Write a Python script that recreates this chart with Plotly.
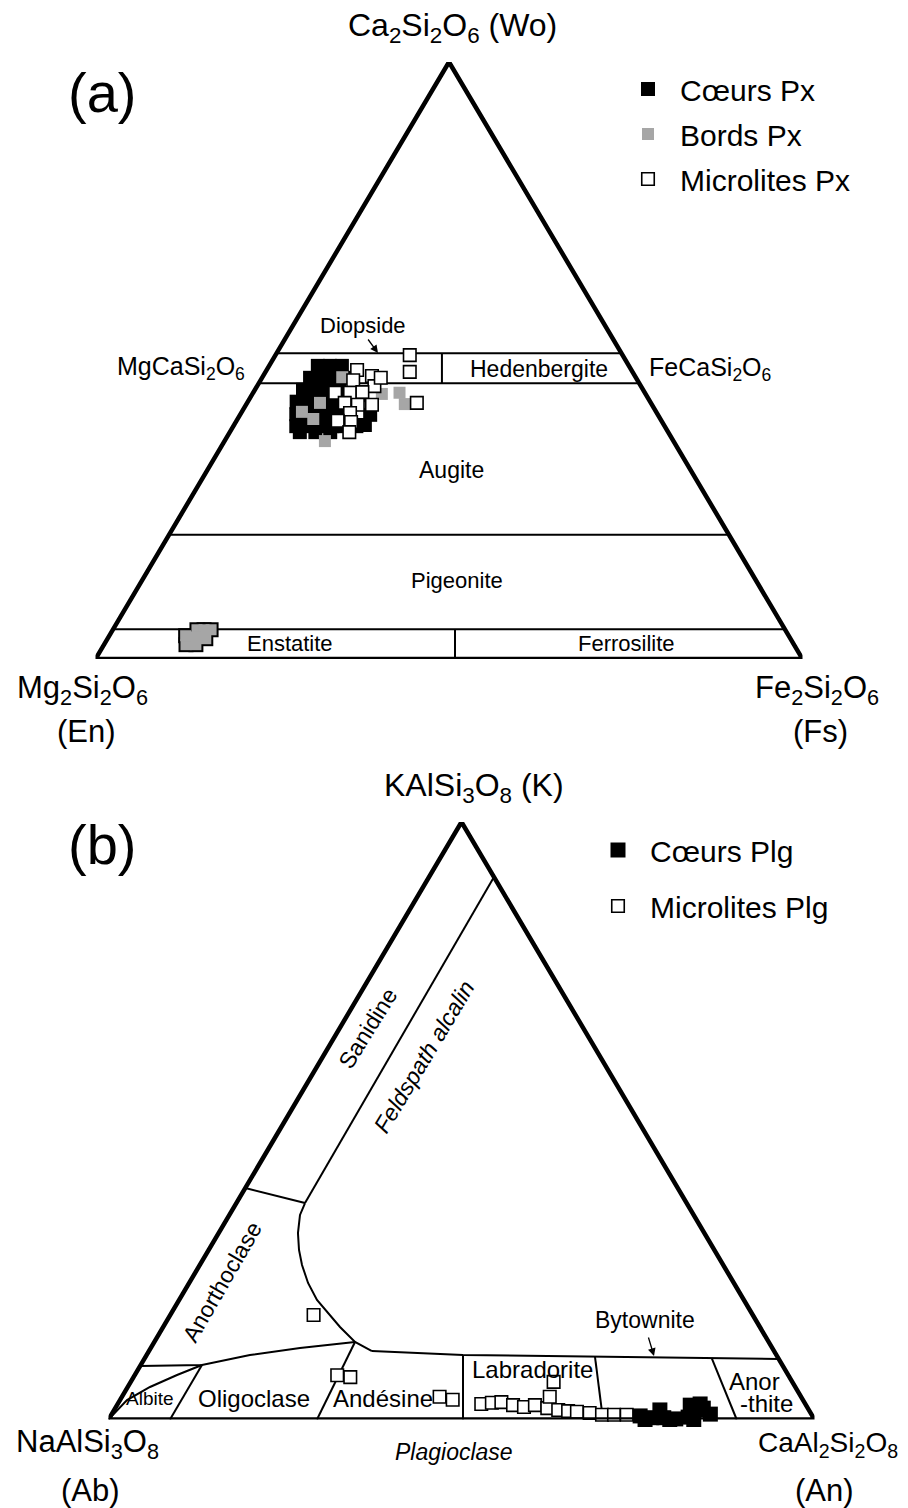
import numpy as np
import plotly.graph_objects as go

# the page body keeps an 8 px margin around the figure div
PAGE_W, PAGE_H, OFF = 908, 1508, 8
FIG_W, FIG_H = PAGE_W - OFF, PAGE_H - OFF
FONT = "Liberation Sans, Arial, Helvetica, sans-serif"

# ---------------- Panel (a): pyroxenes, compositions in mol % (Wo, En, Fs) ----------------
px_core_wo = [49.1, 49.1, 49.1, 47.1, 47.1, 47.1, 47.1, 45.1, 45.1, 45.1, 45.1,
              43.1, 43.1, 43.1, 43.1, 43.1, 41.0, 41.0, 41.0, 41.0, 41.0,
              39.0, 39.0, 39.0, 39.0, 39.0, 39.0, 38.0, 38.0, 38.0, 44.2, 40.9, 39.2]
px_core_en = [44.0, 42.3, 40.6, 46.1, 44.4, 42.7, 41.0, 48.1, 46.4, 44.7, 43.0,
              50.0, 48.3, 46.6, 44.9, 43.2, 51.1, 49.4, 47.7, 46.0, 44.3,
              52.1, 50.4, 48.7, 47.0, 45.3, 43.6, 52.1, 49.9, 47.8, 40.5, 40.7, 42.3]
px_core_fs = [6.9, 8.6, 10.3, 6.8, 8.5, 10.2, 11.9, 6.8, 8.5, 10.2, 11.9,
              6.9, 8.6, 10.3, 12.0, 13.7, 7.9, 9.6, 11.3, 13.0, 14.7,
              8.9, 10.6, 12.3, 14.0, 15.7, 17.4, 9.9, 12.1, 14.2, 15.3, 18.4, 18.5]

px_rim_wo = [42.9, 41.4, 40.2, 36.5, 47.2, 44.4, 44.6, 42.7]
px_rim_en = [46.8, 50.1, 49.1, 49.3, 41.5, 37.3, 34.7, 34.9]
px_rim_fs = [10.3, 8.5, 10.7, 14.2, 11.3, 18.3, 20.7, 22.4]

# orthopyroxene group (enstatite field)
opx_wo = [2.4, 2.4, 3.9, 4.9, 4.9, 4.9, 3.4, 3.7]
opx_en = [86.0, 84.6, 85.3, 83.2, 82.2, 81.2, 82.7, 83.9]
opx_fs = [11.6, 13.0, 10.8, 11.9, 12.9, 13.9, 13.9, 12.4]

px_micro_wo = [48.4, 47.4, 46.7, 45.7, 47.1, 44.6, 44.6, 44.7, 42.9, 42.6, 42.6,
               41.2, 39.9, 39.7, 38.0, 50.9, 48.1, 42.9]
px_micro_en = [38.8, 37.2, 40.2, 37.7, 36.1, 43.8, 41.7, 39.9, 43.3, 41.6, 39.6,
               43.4, 45.8, 44.0, 45.1, 30.1, 31.5, 33.1]
px_micro_fs = [12.8, 15.4, 13.1, 16.6, 16.8, 11.6, 13.7, 15.4, 13.8, 15.8, 17.8,
               15.4, 14.3, 16.3, 16.9, 19.0, 20.4, 24.0]

# pyroxene quadrilateral boundaries (Wo levels) and dividers (Wo, Fs)
px_wo_levels = [51.2, 46.2, 20.8, 5.0]
di_hd_wo = [51.2, 46.2]
di_hd_fs = [23.4, 25.9]
en_fs_wo = [5.0, 0.0]
en_fs_fs = [48.35, 50.85]

# ---------------- Panel (b): feldspars, compositions in mol % (K, Ab, An) ----------------
plg_micro_k = [17.5, 7.4, 7.1, 3.8, 3.3, 2.6, 2.8, 2.9, 2.4, 2.1, 2.4, 1.9, 3.8, 6.3,
               1.6, 1.4, 1.3, 1.1, 0.8, 0.8, 0.8]
plg_micro_ab = [62.2, 63.9, 62.2, 51.2, 49.6, 45.9, 44.3, 42.9, 41.5, 40.1, 38.4, 36.9, 35.6, 33.8,
                35.5, 34.2, 33.0, 31.3, 29.7, 28.0, 26.2]
plg_micro_an = [20.3, 28.7, 30.7, 45.0, 47.1, 51.5, 52.9, 54.2, 56.1, 57.8, 59.2, 61.2, 60.6, 59.9,
                62.9, 64.4, 65.7, 67.6, 69.5, 71.2, 73.0]

plg_core_k = [0.6, 0.3, 0.3, 0.1, 0.4, 1.6, 1.9, 0.9, 0.0, 0.0, 0.0, 2.4, 2.6, 1.6]
plg_core_ab = [24.4, 22.9, 21.2, 19.6, 17.7, 15.9, 14.8, 14.3, 24.0, 20.5, 17.1, 16.4, 14.9, 21.1]
plg_core_an = [75.0, 76.8, 78.5, 80.3, 81.9, 82.5, 83.3, 84.8, 76.0, 79.5, 82.9, 81.2, 82.5, 77.3]

# feldspar field boundaries (K, An); Ab = 100 - K - An
sanidine_k = [90.8, 36.23]
sanidine_an = [9.2, 9.72]
anorthoclase_k = [38.74, 36.23]
anorthoclase_an = [0.0, 9.72]
alkali_curve_k = [36.23, 34.23, 31.21, 28.37, 25.86, 22.85, 20.00, 18.16, 15.48, 12.97, 11.46]
alkali_curve_an = [9.72, 10.01, 11.23, 12.80, 14.48, 16.84, 19.53, 21.73, 25.05, 28.43, 31.59]
plag_top_k = [11.46, 10.79, 10.13]
plag_top_an = [31.59, 44.82, 89.87]
plag_top_left_k = [12.97, 11.97, 10.79, 9.46, 9.12, 8.95]
plag_top_left_an = [28.43, 21.14, 14.64, 9.65, 8.68, 0.0]
albite_curve_k = [9.12, 7.45, 5.44, 3.26, 0.0]
albite_curve_an = [8.68, 5.98, 3.16, 0.99, 0.0]
an10_k, an10_an = [9.12, 0.0], [8.68, 8.71]
an30_k, an30_an = [12.97, 0.0], [28.43, 29.53]
an50_k, an50_an = [10.79, 0.0], [44.82, 50.21]
an70_k, an70_an = [10.50, 0.0], [63.66, 70.04]
an90_k, an90_an = [10.26, 0.0], [80.31, 88.98]


def tern(top, left, right):
    """Ternary composition -> cartesian (x along base, y = top fraction)."""
    t = np.asarray(top, float)
    l = np.asarray(left, float)
    r = np.asarray(right, float)
    s = t + l + r
    a, c = t / s, r / s
    return c + a / 2, a


def tern2(top, right):
    top = np.asarray(top, float)
    right = np.asarray(right, float)
    return tern(top, 100 - top - right, right)


fig = go.Figure()


def add_line(xy, xa, ya, width=2, color="black"):
    x, y = xy
    fig.add_trace(go.Scatter(x=x, y=y, mode="lines", xaxis=xa, yaxis=ya,
                             line=dict(color=color, width=width),
                             showlegend=False, hoverinfo="skip", cliponaxis=False))


# ---- panel (a) boundaries
for wo in px_wo_levels:
    add_line(tern2([wo, wo], [0, 100 - wo]), "x", "y")
add_line(tern2(di_hd_wo, di_hd_fs), "x", "y")
add_line(tern2(en_fs_wo, en_fs_fs), "x", "y")

# ---- panel (b) boundaries
for kk, aa in [(sanidine_k, sanidine_an), (anorthoclase_k, anorthoclase_an),
               (alkali_curve_k, alkali_curve_an), (plag_top_k, plag_top_an),
               (plag_top_left_k, plag_top_left_an), (albite_curve_k, albite_curve_an),
               (an10_k, an10_an), (an30_k, an30_an), (an50_k, an50_an),
               (an70_k, an70_an), (an90_k, an90_an)]:
    add_line(tern2(kk, aa), "x2", "y2")

# ---- panel (a) data
x, y = tern(px_core_wo, px_core_en, px_core_fs)
fig.add_trace(go.Scatter(x=x, y=y, mode="markers", name="Cœurs Px", xaxis="x", yaxis="y",
                         marker=dict(symbol="square", size=14, color="black",
                                     line=dict(width=0)),
                         cliponaxis=False, legend="legend", legendgroup="core"))
x, y = tern(px_rim_wo, px_rim_en, px_rim_fs)
fig.add_trace(go.Scatter(x=x, y=y, mode="markers", name="Bords Px", xaxis="x", yaxis="y",
                         marker=dict(symbol="square", size=12, color="#a6a6a6",
                                     line=dict(width=0)),
                         cliponaxis=False, legend="legend", legendgroup="rim"))
x, y = tern(opx_wo, opx_en, opx_fs)
fig.add_trace(go.Scatter(x=x, y=y, mode="markers", xaxis="x", yaxis="y", showlegend=False,
                         marker=dict(symbol="square", size=15, color="black", line=dict(width=0)),
                         cliponaxis=False, hoverinfo="skip"))
fig.add_trace(go.Scatter(x=x, y=y, mode="markers", xaxis="x", yaxis="y", showlegend=False,
                         marker=dict(symbol="square", size=11, color="#a6a6a6", line=dict(width=0)),
                         cliponaxis=False))
x, y = tern(px_micro_wo, px_micro_en, px_micro_fs)
fig.add_trace(go.Scatter(x=x, y=y, mode="markers", name="Microlites Px", xaxis="x", yaxis="y",
                         marker=dict(symbol="square", size=12.5, color="white",
                                     line=dict(width=1.6, color="black")),
                         cliponaxis=False, legend="legend", legendgroup="micro"))

# ---- panel (b) data
x, y = tern(plg_micro_k, plg_micro_ab, plg_micro_an)
micro_plg = go.Scatter(x=x, y=y, mode="markers", name="Microlites Plg", xaxis="x2", yaxis="y2",
                       marker=dict(symbol="square", size=12.5, color="white",
                                   line=dict(width=1.6, color="black")),
                       cliponaxis=False, legend="legend2", legendrank=2, legendgroup="micro_plg")
x, y = tern(plg_core_k, plg_core_ab, plg_core_an)
core_plg = go.Scatter(x=x, y=y, mode="markers", name="Cœurs Plg", xaxis="x2", yaxis="y2",
                      marker=dict(symbol="square", size=15, color="black", line=dict(width=0)),
                      cliponaxis=False, legend="legend2", legendrank=1, legendgroup="core_plg")
fig.add_trace(micro_plg)
fig.add_trace(core_plg)

# ---- triangle outlines (drawn last, closed with overlap so every corner is joined)
for xa, ya in [("x", "y"), ("x2", "y2")]:
    add_line(tern([0, 0, 100, 0, 0], [100, 0, 0, 100, 0], [0, 100, 0, 0, 100]), xa, ya, width=4.5)


def P(px, py):
    """page pixel -> paper fraction of the figure (which starts OFF px into the page)"""
    return (px - OFF) / FIG_W, 1 - (py - OFF) / FIG_H


annots = []


def label(text, px, py, size, angle=0, italic=False):
    xx, yy = P(px, py)
    if italic:
        text = "<i>" + text + "</i>"
    annots.append(dict(text=text, x=xx, y=yy, xref="paper", yref="paper", showarrow=False,
                       textangle=angle, font=dict(family=FONT, size=size, color="black"),
                       xanchor="center", yanchor="middle"))


def arrow(hx, hy, dx, dy):
    xx, yy = P(hx, hy)
    annots.append(dict(text="", x=xx, y=yy, xref="paper", yref="paper", showarrow=True,
                       ax=dx, ay=dy, arrowhead=2, arrowsize=1.2, arrowwidth=1.3,
                       arrowcolor="black"))


# panel (a) texts
label("Ca<sub>2</sub>Si<sub>2</sub>O<sub>6</sub> (Wo)", 452, 27, 32)
label("(a)", 102, 93, 56)
label("Mg<sub>2</sub>Si<sub>2</sub>O<sub>6</sub>", 82, 690, 31)
label("(En)", 86, 731, 31)
label("Fe<sub>2</sub>Si<sub>2</sub>O<sub>6</sub>", 817, 690, 31)
label("(Fs)", 820, 731, 31)
label("MgCaSi<sub>2</sub>O<sub>6</sub>", 181, 368, 25)
label("FeCaSi<sub>2</sub>O<sub>6</sub>", 710, 369, 25)
label("Diopside", 363, 326, 22)
label("Hedenbergite", 539, 369, 23)
label("Augite", 451, 470, 23)
label("Pigeonite", 457, 580, 22)
label("Enstatite", 290, 643, 22)
label("Ferrosilite", 626, 643, 22)
arrow(378, 353, -11, -15)

# panel (b) texts
label("KAlSi<sub>3</sub>O<sub>8</sub> (K)", 474, 787, 32)
label("(b)", 102, 844, 56)
label("NaAlSi<sub>3</sub>O<sub>8</sub>", 87, 1444, 31)
label("(Ab)", 90, 1490, 31)
label("CaAl<sub>2</sub>Si<sub>2</sub>O<sub>8</sub>", 828, 1444, 28)
label("(An)", 824, 1490, 31)
label("Plagioclase", 454, 1452, 23, italic=True)
label("Sanidine", 368, 1028, 23, angle=-58)
label("Feldspath alcalin", 424, 1057, 23, angle=-59, italic=True)
label("Anorthoclase", 222, 1282, 23, angle=-60)
label("Albite", 150, 1398, 19)
label("Oligoclase", 254, 1398, 24)
label("Andésine", 383, 1398, 24)
label("Labradorite", 532, 1369, 24)
label("Bytownite", 645, 1320, 23)
label("Anor", 754, 1381, 24)
label("-thite", 766, 1403, 24)
arrow(654, 1356, -6, -20)

ax_common = dict(range=[0, 1], visible=False, fixedrange=True)


def dom_x(p0, p1):
    return [(p0 - OFF) / FIG_W, (p1 - OFF) / FIG_W]


def dom_y(p_bottom, p_top):
    return [1 - (p_bottom - OFF) / FIG_H, 1 - (p_top - OFF) / FIG_H]


lx, ly = P(616, 63)
lx2, ly2 = P(586, 824)
fig.update_layout(
    width=FIG_W, height=FIG_H,
    margin=dict(l=0, r=0, t=0, b=0),
    paper_bgcolor="white", plot_bgcolor="rgba(0,0,0,0)",
    font=dict(family=FONT, color="black"),
    xaxis=dict(domain=dom_x(95.5, 802.5), **ax_common),
    yaxis=dict(domain=dom_y(659, 62), **ax_common),
    xaxis2=dict(domain=dom_x(108.5, 814.5), **ax_common),
    yaxis2=dict(domain=dom_y(1419.5, 822), **ax_common),
    showlegend=True,
    legend=dict(x=lx, y=ly, xanchor="left", yanchor="top",
                font=dict(family=FONT, size=30, color="black"), bgcolor="rgba(0,0,0,0)",
                itemwidth=54, tracegroupgap=3, itemsizing="trace", itemclick=False),
    legend2=dict(x=lx2, y=ly2, xanchor="left", yanchor="top",
                 font=dict(family=FONT, size=30, color="black"), bgcolor="rgba(0,0,0,0)",
                 itemwidth=54, tracegroupgap=14, itemsizing="trace", itemclick=False),
    annotations=annots,
)

fig.write_html("out.html")
